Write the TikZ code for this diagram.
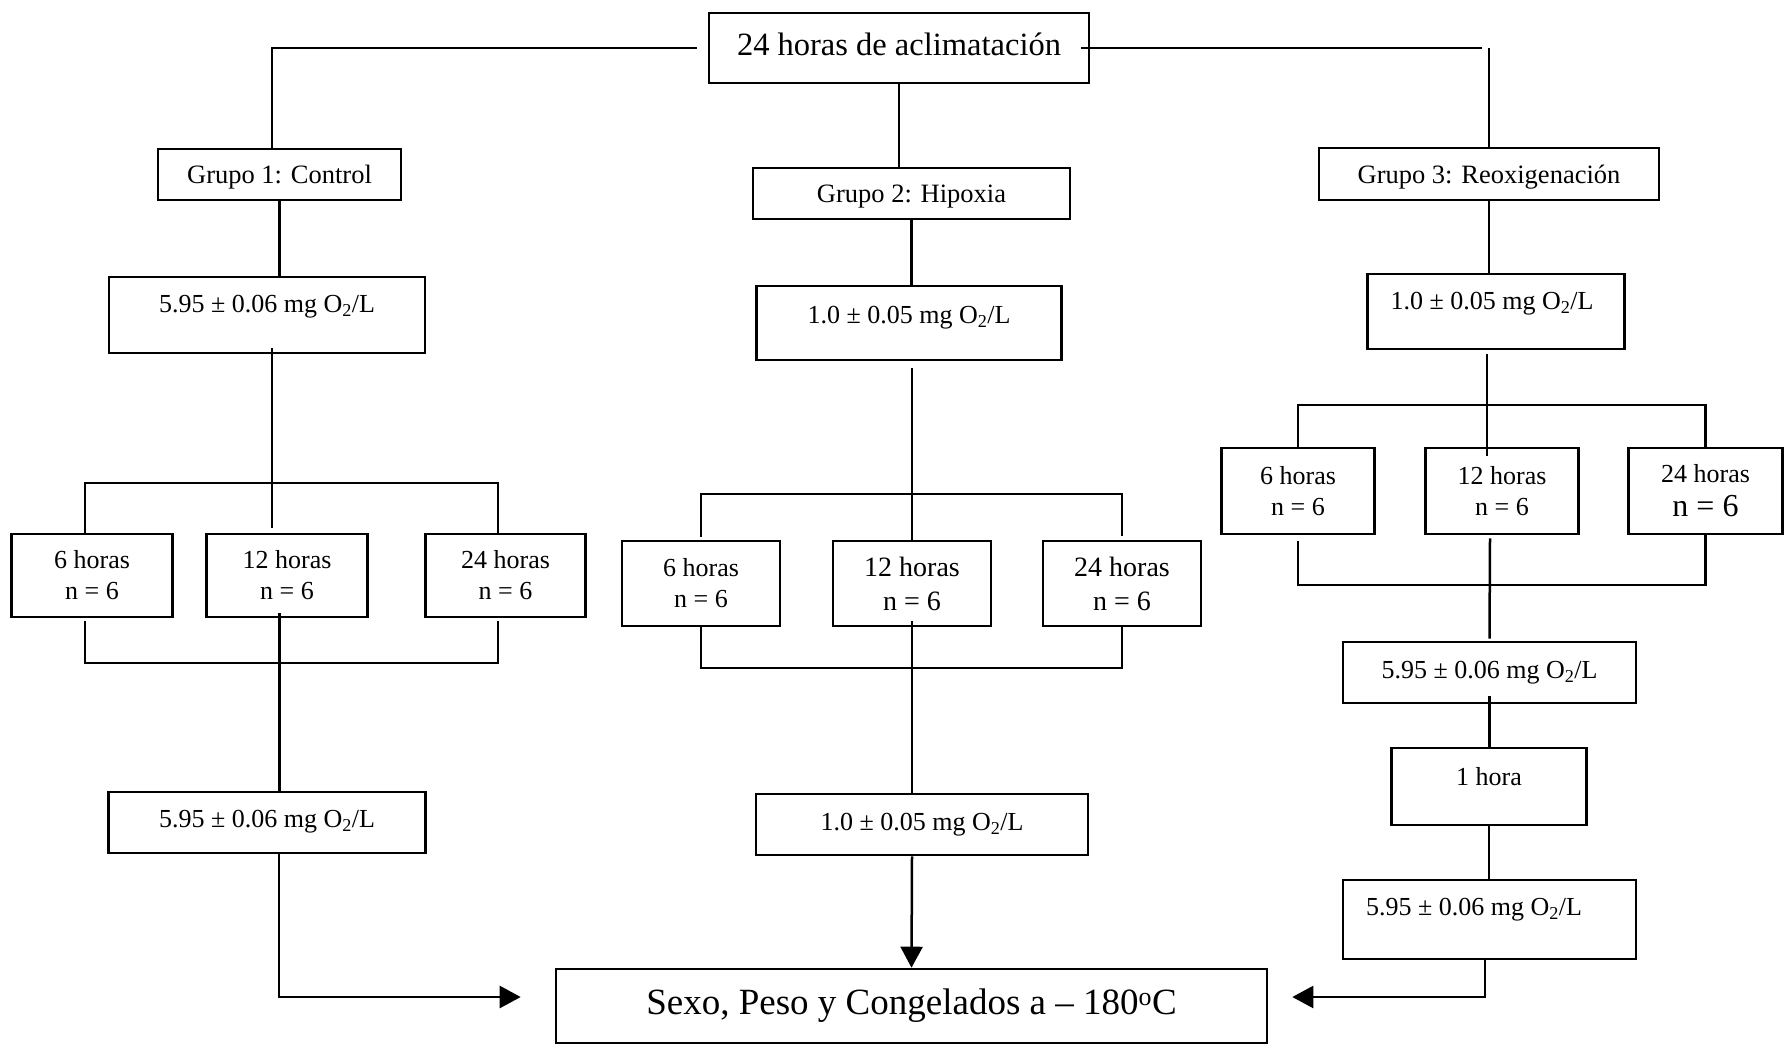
\documentclass[tikz,border=0pt]{standalone}
\usepackage{fontspec}
\setmainfont{Liberation Serif}
\usetikzlibrary{arrows.meta}
\begin{document}
\begin{tikzpicture}[x=1pt,y=-1pt,
  box/.style={draw, line width=2.6pt, inner sep=0pt, align=center, font=\fontsize{26}{31}\selectfont},
  txt/.style={inner sep=0pt, font=\fontsize{26}{31}\selectfont},
  grp/.style={font=\fontsize{26.5}{31}\selectfont, text depth=0pt},
  ln/.style={line width=2.5pt},
  thinln/.style={line width=1.4pt},
  arr/.style={ln, -{Triangle[length=21pt,width=22pt]}}
]
\fill[white] (0,0) rectangle (1785,1044);
\useasboundingbox (0,0) rectangle (1785,1044);

% top and groups
\node[box, minimum width=380pt, minimum height=70pt] (top) at (899,48) {};
\node[txt, font=\fontsize{32.5}{38}\selectfont] (topt) at (899,44) {24 horas de aclimatación};
\node[box, grp, minimum width=243pt, minimum height=51pt] (g1) at (279.5,174.5) {Grupo 1: Control};
\node[box, grp, minimum width=317pt, minimum height=51pt] (g2) at (911.5,193.5) {Grupo 2: Hipoxia};
\node[box, grp, minimum width=340pt, minimum height=52pt] (g3) at (1489,174) {Grupo 3: Reoxigenación};

% first O2 boxes
\node[box, minimum width=316pt, minimum height=76pt] (c1) at (267,315) {};
\node[txt] (c1t) at (267,307) {5.95 ± 0.06 mg O\textsubscript{2}/L};
\node[box, minimum width=305.5pt, minimum height=74pt] (h1) at (909,323) {};
\node[txt] (h1t) at (909,318) {1.0 ± 0.05 mg O\textsubscript{2}/L};
\node[box, minimum width=256.5pt, minimum height=75pt] (r1) at (1496,311.5) {};
\node[txt] (r1t) at (1492,304) {1.0 ± 0.05 mg O\textsubscript{2}/L};

% control times
\node[box, minimum width=160.5pt, minimum height=83pt] (c6) at (92,575.5) {6 horas\\n = 6};
\node[box, minimum width=160.5pt, minimum height=83pt] (c12) at (287,575.5) {12 horas\\n = 6};
\node[box, minimum width=160.5pt, minimum height=83pt] (c24) at (505.5,575.5) {24 horas\\n = 6};

% hipoxia times
\node[box, minimum width=158pt, minimum height=85pt] (h6) at (701,583.5) {6 horas\\n = 6};
\node[box, minimum width=158pt, minimum height=85pt, font=\fontsize{28}{34}\selectfont] (h12) at (912,583.5) {12 horas\\n = 6};
\node[box, minimum width=158pt, minimum height=85pt, font=\fontsize{28}{34}\selectfont] (h24) at (1122,583.5) {24 horas\\n = 6};

% reox times
\node[box, minimum width=153.5pt, minimum height=86pt] (r6) at (1298,491) {6 horas\\n = 6};
\node[box, minimum width=153.5pt, minimum height=86pt] (r12) at (1502,491) {12 horas\\n = 6};
\node[box, minimum width=153.5pt, minimum height=86pt] (r24) at (1705.5,491) {24 horas\\[3pt]{\fontsize{32}{34}\selectfont n = 6}};

% lower boxes
\node[box, minimum width=316.5pt, minimum height=61pt] (c2) at (267,822.5) {};
\node[txt] (c2t) at (267,822) {5.95 ± 0.06 mg O\textsubscript{2}/L};
\node[box, minimum width=332pt, minimum height=61pt] (h2) at (922,824.5) {};
\node[txt] (h2t) at (922,825) {1.0 ± 0.05 mg O\textsubscript{2}/L};
\node[box, minimum width=293pt, minimum height=61pt] (r3) at (1489.5,672.5) {};
\node[txt] (r3t) at (1489.5,673) {5.95 ± 0.06 mg O\textsubscript{2}/L};
\node[box, minimum width=195pt, minimum height=77pt] (r4) at (1489,786.5) {};
\node[txt] (r4t) at (1489,777) {1 hora};
\node[box, minimum width=293pt, minimum height=79pt] (r5) at (1489.5,919.5) {};
\node[txt] (r5t) at (1474,910) {5.95 ± 0.06 mg O\textsubscript{2}/L};

\node[box, minimum width=711pt, minimum height=74pt] (bot) at (911.5,1006) {};
\node[txt, font=\fontsize{37}{44}\selectfont] (bott) at (911.5,1006) {Sexo, Peso y Congelados a – 180\textsuperscript{o}C};

% top connectors
\coordinate (tr) at (1482,48);
\draw[ln] ([xshift=-11pt]top.west) -| ([xshift=-7.5pt]g1.north);
\draw[ln] ([xshift=-9pt]top.east) -- (tr);
\draw[ln] (g3.north) -- (g3.north |- tr);
\draw[ln] (top.south) -- (top.south |- g2.north);
\draw[ln] (g1.south) -- (g1.south |- c1.north);
\draw[ln] (g2.south) -- (g2.south |- h1.north);
\draw[ln] (g3.south) -- (g3.south |- r1.north);

% control
\coordinate (cbt) at (272,483);
\coordinate (cbb) at (279,663);
\draw[thinln] ([xshift=5pt,yshift=6pt]c1.south) -- ([xshift=-15pt,yshift=5pt]c12.north);
\draw[ln] ([xshift=-7pt]c6.north) |- (cbt) -| ([xshift=-7.5pt]c24.north);
\draw[ln] ([xshift=-7pt,yshift=-3pt]c6.south) |- (cbb) -| ([xshift=-7.5pt,yshift=-3pt]c24.south);
\draw[ln] ([xshift=-7.6pt,yshift=5pt]c12.south) -- ([xshift=12.4pt]c2.north);
\draw[arr] ([xshift=12pt]c2.south) |- ([xshift=-34pt,yshift=9pt]bot.west);

% hipoxia
\coordinate (hbt) at (912,494);
\coordinate (hbb) at (912,668);
\draw[ln] ([xshift=3pt,yshift=-7pt]h1.south) -- ([yshift=-2pt]h12.north);
\draw[ln] ([yshift=3pt]h6.north) |- (hbt) -| ([yshift=4pt]h24.north);
\draw[ln] (h6.south) |- (hbb) -| (h24.south);
\draw[ln] ([yshift=6pt]h12.south) -- ([xshift=-10pt]h2.north);
\draw[arr] ([xshift=-10pt]h2.south) -- (bot.north);

% reox
\coordinate (rbt) at (1487,405);
\coordinate (rbb) at (1490,585);
\draw[ln] ([xshift=-9pt,yshift=-4pt]r1.south) -- ([xshift=-15pt,yshift=-9pt]r12.north);
\draw[ln] (r6.north) |- (rbt) -| (r24.north);
\draw[ln] ([yshift=-6pt]r6.south) |- (rbb) -| (r24.south);
\draw[ln] ([xshift=-12pt,yshift=-3pt]r12.south) -- ([yshift=2pt]r3.north);
\draw[ln] ([yshift=8pt]r3.south) -- (r3.south |- r4.north);
\draw[ln] (r4.south) -- (r4.south |- r5.north);
\draw[arr] ([xshift=-4.5pt]r5.south) |- ([xshift=24pt,yshift=9pt]bot.east);
\end{tikzpicture}
\end{document}
